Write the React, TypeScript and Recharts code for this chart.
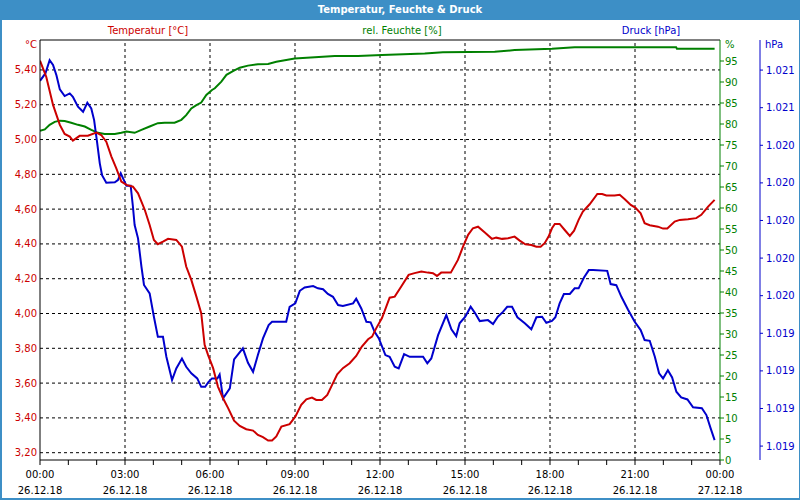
import React from "react";
import { LineChart, Line, XAxis, YAxis, ReferenceLine } from "recharts";

// ---- data (hours since 26.12.18 00:00) ----
const tempHours = [0.00,0.22,0.46,0.70,0.87,1.05,1.16,1.40,1.69,1.99,2.16,2.34,2.52,2.69,2.87,3.05,3.28,3.46,3.70,3.87,4.02,4.16,4.34,4.52,4.81,5.01,5.16,5.34,5.52,5.69,5.81,5.93,6.11,6.28,6.46,6.64,6.85,7.05,7.28,7.52,7.69,7.87,8.05,8.19,8.34,8.52,8.81,9.01,9.22,9.40,9.60,9.75,9.95,10.14,10.31,10.49,10.69,10.93,11.16,11.36,11.58,11.72,11.87,12.07,12.34,12.52,12.75,13.01,13.22,13.46,13.69,13.87,14.01,14.16,14.50,14.75,14.93,15.11,15.28,15.46,15.70,15.95,16.10,16.31,16.52,16.75,16.93,17.13,17.34,17.52,17.67,17.81,17.95,18.07,18.17,18.34,18.52,18.70,18.85,19.01,19.16,19.40,19.67,19.84,19.99,20.28,20.46,20.64,20.85,21.01,21.20,21.34,21.52,21.81,21.99,22.14,22.40,22.58,22.87,23.16,23.34,23.58,23.81];
const tempValues = [5.453,5.361,5.199,5.084,5.032,5.017,4.994,5.021,5.022,5.040,5.026,4.988,4.902,4.835,4.758,4.739,4.729,4.691,4.595,4.509,4.423,4.398,4.413,4.429,4.423,4.384,4.270,4.193,4.097,4.002,3.820,3.762,3.686,3.580,3.513,3.456,3.384,3.354,3.335,3.327,3.302,3.289,3.270,3.270,3.293,3.350,3.364,3.407,3.475,3.507,3.517,3.503,3.503,3.532,3.590,3.651,3.686,3.714,3.756,3.810,3.852,3.867,3.916,3.974,4.091,4.097,4.155,4.222,4.232,4.241,4.235,4.232,4.216,4.235,4.235,4.308,4.384,4.452,4.490,4.499,4.465,4.429,4.436,4.429,4.433,4.442,4.419,4.398,4.394,4.384,4.384,4.404,4.442,4.490,4.515,4.515,4.480,4.446,4.476,4.538,4.586,4.628,4.687,4.687,4.678,4.678,4.682,4.657,4.624,4.609,4.576,4.519,4.507,4.499,4.488,4.488,4.528,4.538,4.542,4.548,4.567,4.614,4.653];

const humHours = [0.00,0.17,0.34,0.52,0.70,0.87,1.10,1.34,1.58,1.81,2.05,2.28,2.64,2.87,3.05,3.34,3.58,3.87,4.16,4.40,4.75,4.99,5.16,5.34,5.52,5.69,5.87,6.07,6.17,6.40,6.58,6.81,7.05,7.34,7.69,8.05,8.34,8.64,8.99,9.70,10.40,11.22,12.07,13.58,14.22,16.05,16.75,18.07,18.87,22.45,22.48,23.81];
const humValues = [78.4,78.7,79.8,80.5,80.8,80.7,80.3,79.8,79.4,78.6,77.9,77.6,77.6,77.9,78.2,77.9,78.6,79.4,80.2,80.3,80.3,81.0,82.1,83.7,84.5,85.1,86.9,88.1,88.5,90.1,91.7,92.6,93.4,93.9,94.2,94.3,94.8,95.2,95.6,95.9,96.2,96.2,96.4,96.8,97.1,97.2,97.6,97.9,98.3,98.3,97.9,97.9];

const presHours = [0.00,0.19,0.34,0.46,0.58,0.70,0.87,1.05,1.16,1.34,1.52,1.67,1.81,1.91,2.02,2.11,2.19,2.34,2.64,2.75,2.85,2.96,3.05,3.20,3.28,3.34,3.46,3.58,3.67,3.87,4.02,4.16,4.34,4.46,4.66,4.81,5.01,5.16,5.34,5.55,5.69,5.83,5.95,6.07,6.26,6.34,6.46,6.70,6.85,7.16,7.34,7.52,7.69,7.87,8.07,8.19,8.69,8.81,9.01,9.17,9.34,9.64,9.81,9.99,10.16,10.34,10.52,10.69,11.05,11.16,11.34,11.52,11.67,11.81,11.96,12.19,12.34,12.52,12.66,12.85,13.05,13.52,13.67,13.81,14.05,14.34,14.52,14.69,14.81,15.01,15.20,15.36,15.52,15.81,15.99,16.16,16.34,16.49,16.66,16.85,17.11,17.34,17.52,17.72,17.87,18.07,18.19,18.34,18.49,18.70,18.87,19.01,19.20,19.37,19.52,20.02,20.14,20.34,20.52,20.75,20.99,21.20,21.34,21.52,21.70,21.85,21.99,22.16,22.31,22.46,22.63,22.85,23.05,23.36,23.52,23.67,23.81];
const presValues = [1020.743,1020.782,1020.853,1020.827,1020.773,1020.697,1020.662,1020.676,1020.658,1020.605,1020.578,1020.626,1020.596,1020.534,1020.410,1020.304,1020.241,1020.201,1020.203,1020.215,1020.251,1020.215,1020.185,1020.185,1020.073,1019.976,1019.905,1019.754,1019.657,1019.612,1019.488,1019.381,1019.381,1019.275,1019.151,1019.213,1019.266,1019.222,1019.187,1019.160,1019.115,1019.115,1019.142,1019.160,1019.160,1019.181,1019.054,1019.107,1019.261,1019.320,1019.243,1019.195,1019.284,1019.373,1019.444,1019.461,1019.461,1019.541,1019.559,1019.626,1019.644,1019.651,1019.639,1019.634,1019.609,1019.594,1019.550,1019.545,1019.559,1019.584,1019.532,1019.461,1019.458,1019.408,1019.373,1019.284,1019.275,1019.222,1019.213,1019.289,1019.275,1019.275,1019.240,1019.266,1019.390,1019.497,1019.421,1019.385,1019.453,1019.488,1019.541,1019.506,1019.465,1019.470,1019.449,1019.488,1019.514,1019.541,1019.541,1019.485,1019.453,1019.421,1019.485,1019.488,1019.456,1019.466,1019.485,1019.559,1019.609,1019.609,1019.639,1019.639,1019.697,1019.736,1019.736,1019.732,1019.662,1019.656,1019.594,1019.527,1019.461,1019.417,1019.364,1019.360,1019.275,1019.187,1019.160,1019.204,1019.165,1019.089,1019.059,1019.048,1019.006,1019.001,1018.965,1018.894,1018.832];

const hourTicks = [0,1,2,3,4,5,6,7,8,9,10,11,12,13,14,15,16,17,18,19,20,21,22,23,24];
const gridHours = [3,6,9,12,15,18,21];
const timeLabels = ["00:00","03:00","06:00","09:00","12:00","15:00","18:00","21:00","00:00"];
const dateLabels = ["26.12.18","26.12.18","26.12.18","26.12.18","26.12.18","26.12.18","26.12.18","26.12.18","27.12.18"];

const tempTicks = [3.2,3.4,3.6,3.8,4.0,4.2,4.4,4.6,4.8,5.0,5.2,5.4];
const tempDomain = [3.158, 5.572];
const humTicks = [0,5,10,15,20,25,30,35,40,45,50,55,60,65,70,75,80,85,90,95];
const humDomain = [0, 100];
const presTicks = [1018.8,1019.0,1019.2,1019.4,1019.6,1019.8,1020.0,1020.2,1020.4,1020.6,1020.8];
const presDomain = [1018.726, 1020.96];

const RED = "#cc0000";
const GREEN = "#008000";
const BLUE = "#0000cc";
const FRAME = "#3d8fc6";
const FONT = "'DejaVu Sans', Tahoma, sans-serif";

const tempData = tempHours.map((t, i) => ({ t, v: tempValues[i] }));
const humData = humHours.map((t, i) => ({ t, v: humValues[i] }));
const presData = presHours.map((t, i) => ({ t, v: presValues[i] }));

const fmtTemp = (v: number) => v.toFixed(2).replace(".", ",");
const fmtPres = (v: number) => {
  const r = Math.round(v);
  return `${Math.floor(r / 1000)}.${String(r % 1000).padStart(3, "0")}`;
};

const XTick = (props: any) => {
  const { x, y, payload } = props;
  const h = payload.value;
  if (h % 3 !== 0) return <g />;
  const idx = h / 3;
  return (
    <g>
      <text x={x} y={y + 11} textAnchor="middle" fontSize={10} fontFamily={FONT} fill="#000">
        {timeLabels[idx]}
      </text>
      <text x={x} y={y + 27} textAnchor="middle" fontSize={10} fontFamily={FONT} fill="#000">
        {dateLabels[idx]}
      </text>
    </g>
  );
};

const label = (text: string, left: number, top: number, color: string, anchor: "center" | "left" = "center") => (
  <div
    style={{
      position: "absolute",
      left: anchor === "center" ? left - 100 : left,
      width: anchor === "center" ? 200 : undefined,
      top,
      textAlign: anchor === "center" ? "center" : "left",
      color,
      fontFamily: FONT,
      fontSize: 10,
      lineHeight: "12px",
      whiteSpace: "nowrap",
    }}
  >
    {text}
  </div>
);

export default function App() {
  return (
    <div style={{ position: "fixed", left: 0, top: 0, width: 800, height: 500, background: "#fff", overflow: "hidden" }}>
      <div
        style={{
          position: "absolute",
          left: 0,
          top: 0,
          width: 800,
          height: 500,
          boxSizing: "border-box",
          borderLeft: `2px solid ${FRAME}`,
          borderBottom: `2px solid ${FRAME}`,
          borderRight: `1px solid ${FRAME}`,
        }}
      />
      <div
        style={{
          position: "absolute",
          left: 0,
          top: 0,
          width: 800,
          height: 20,
          background: FRAME,
          color: "#fff",
          fontFamily: FONT,
          fontWeight: "bold",
          fontSize: 10,
          lineHeight: "20px",
          textAlign: "center",
        }}
      >
        Temperatur, Feuchte &amp; Druck
      </div>
      {label("Temperatur [°C]", 148, 25, RED)}
      {label("rel. Feuchte [%]", 402, 25, GREEN)}
      {label("Druck [hPa]", 651, 25, BLUE)}
      {label("°C", 25, 39, RED, "left")}
      {label("%", 725, 39, GREEN, "left")}
      {label("hPa", 765, 39, BLUE, "left")}
      <div style={{ position: "absolute", left: 0, top: 0 }}>
        <LineChart width={800} height={500} margin={{ top: 40, right: 0, bottom: 0, left: 0 }}>
          <XAxis
            dataKey="t"
            type="number"
            domain={[0, 24]}
            ticks={hourTicks}
            interval={0}
            height={40}
            tickSize={5}
            tickMargin={2}
            stroke="#000"
            tick={<XTick />}
            allowDataOverflow
          />
          <YAxis
            yAxisId="t"
            dataKey="v"
            type="number"
            domain={tempDomain}
            ticks={tempTicks}
            interval={0}
            width={40}
            tickLine={false}
            tickSize={0}
            tickMargin={3}
            stroke="#000"
            tickFormatter={fmtTemp}
            tick={{ fill: RED, fontSize: 10, fontFamily: FONT }}
            allowDataOverflow
          />
          <YAxis
            yAxisId="h"
            orientation="right"
            dataKey="v"
            type="number"
            domain={humDomain}
            ticks={humTicks}
            interval={0}
            width={40}
            tickSize={4}
            tickMargin={1}
            stroke={GREEN}
            tick={{ fill: GREEN, fontSize: 10, fontFamily: FONT, textAnchor: "start" }}
            allowDataOverflow
          />
          <YAxis
            yAxisId="p"
            orientation="right"
            dataKey="v"
            type="number"
            domain={presDomain}
            ticks={presTicks}
            interval={0}
            width={40}
            tickSize={3}
            tickMargin={3}
            stroke={BLUE}
            tickFormatter={fmtPres}
            tick={{ fill: BLUE, fontSize: 10, fontFamily: FONT, textAnchor: "start" }}
            allowDataOverflow
          />
          {tempTicks.map((v) => (
            <ReferenceLine key={"hy" + v} yAxisId="t" y={v} stroke="#000" strokeDasharray="3 3" />
          ))}
          {gridHours.map((h) => (
            <ReferenceLine key={"vx" + h} yAxisId="t" x={h} stroke="#000" strokeDasharray="3 3" />
          ))}
          <ReferenceLine yAxisId="t" y={tempDomain[1]} stroke="#000" />
          <Line yAxisId="h" data={humData} dataKey="v" type="linear" stroke={GREEN} strokeWidth={2} dot={false} isAnimationActive={false} />
          <Line yAxisId="p" data={presData} dataKey="v" type="linear" stroke={BLUE} strokeWidth={2} dot={false} isAnimationActive={false} />
          <Line yAxisId="t" data={tempData} dataKey="v" type="linear" stroke={RED} strokeWidth={2} dot={false} isAnimationActive={false} />
        </LineChart>
      </div>
    </div>
  );
}
